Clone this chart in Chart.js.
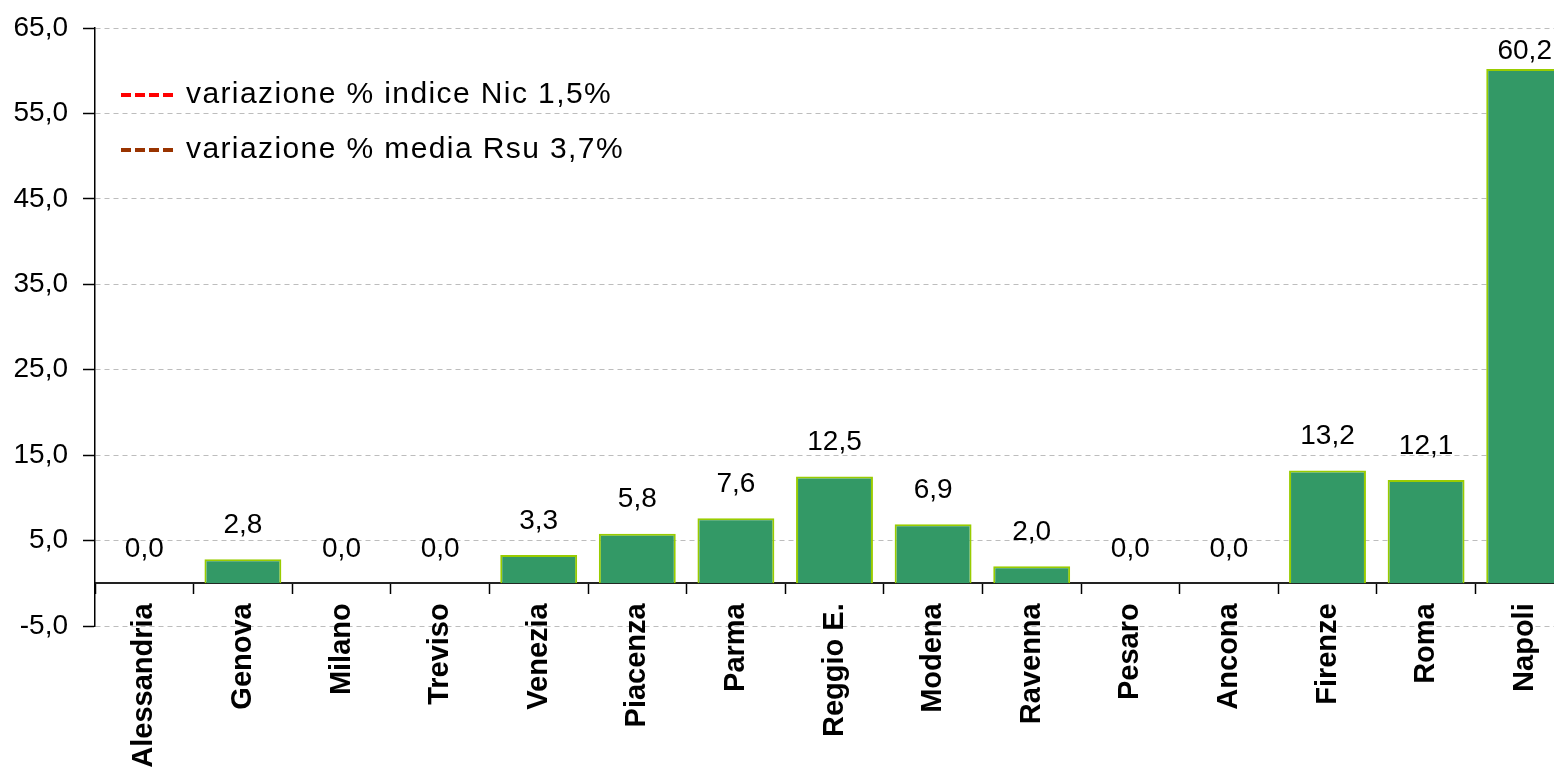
<!DOCTYPE html>
<html>
<head>
<meta charset="utf-8">
<script src="https://cdn.jsdelivr.net/npm/chart.js@4.4.1/dist/chart.umd.min.js"></script>
<style>
html,body{margin:0;padding:0;background:#fff;overflow:hidden;}
#wrap{width:1574px;height:773px;}
</style>
</head>
<body>
<div id="wrap"><canvas id="c" width="1574" height="773"></canvas></div>
<script>
const categories = ['Alessandria','Genova','Milano','Treviso','Venezia','Piacenza','Parma','Reggio E.','Modena','Ravenna','Pesaro','Ancona','Firenze','Roma','Napoli'];
const values = [0.0, 2.8, 0.0, 0.0, 3.3, 5.8, 7.6, 12.5, 6.9, 2.0, 0.0, 0.0, 13.2, 12.1, 60.2];
const yTicks = [-5, 5, 15, 25, 35, 45, 55, 65];
const nicValue = 1.5;
const rsuValue = 3.7;

const fmt = v => v.toFixed(1).replace('.', ',');
const FONT = '"Liberation Sans", Arial, sans-serif';

const dataLabels = {
  id: 'dataLabels',
  afterDatasetsDraw(chart) {
    const ctx = chart.ctx;
    const meta = chart.getDatasetMeta(0);
    ctx.save();
    ctx.font = '28px ' + FONT;
    ctx.fillStyle = '#000';
    ctx.textAlign = 'center';
    ctx.textBaseline = 'middle';
    meta.data.forEach((el, i) => {
      const gap = el.y - 34 < chart.chartArea.top + 10 ? 18 : 34;
      ctx.fillText(fmt(values[i]), el.x, el.y - gap);
    });
    ctx.restore();
  }
};

const customLegend = {
  id: 'customLegend',
  afterDraw(chart) {
    const ctx = chart.ctx;
    const items = chart.data.datasets.filter(d => d.type === 'line');
    ctx.save();
    items.forEach((d, i) => {
      const y = 95 + i * 55;
      ctx.strokeStyle = d.borderColor;
      ctx.lineWidth = 4;
      ctx.setLineDash([10, 4]);
      ctx.beginPath();
      ctx.moveTo(121, y);
      ctx.lineTo(173, y);
      ctx.stroke();
      ctx.setLineDash([]);
      ctx.font = '30px ' + FONT;
      ctx.letterSpacing = '1.4px';
      ctx.fillStyle = '#000';
      ctx.textAlign = 'left';
      ctx.textBaseline = 'middle';
      ctx.fillText(d.label, 186, y);
    });
    ctx.restore();
  }
};

new Chart(document.getElementById('c'), {
  type: 'bar',
  data: {
    labels: categories,
    datasets: [
      {
        type: 'bar',
        label: 'variazione %',
        data: values,
        backgroundColor: '#339966',
        borderColor: '#99cc00',
        borderWidth: 2,
        barPercentage: 0.78,
        categoryPercentage: 1.0
      },
      {
        type: 'line',
        label: 'variazione % indice Nic ' + fmt(nicValue) + '%',
        data: [],
        borderColor: '#ff0000',
        borderDash: [10, 4],
        pointRadius: 0
      },
      {
        type: 'line',
        label: 'variazione % media Rsu ' + fmt(rsuValue) + '%',
        data: [],
        borderColor: '#993300',
        borderDash: [10, 4],
        pointRadius: 0
      }
    ]
  },
  options: {
    responsive: false,
    animation: false,
    devicePixelRatio: 1,
    layout: { padding: { top: 28, right: 0, left: 0, bottom: 147 } },
    plugins: { legend: { display: false }, tooltip: { enabled: false } },
    scales: {
      x: {
        position: { y: 0 },
        z: 1,
        grid: { drawOnChartArea: false, offset: true, tickLength: 10, tickColor: '#000', tickWidth: 1.5 },
        border: { color: '#222', width: 2 },
        ticks: {
          maxRotation: 90, minRotation: 90, autoSkip: false, padding: 10,
          color: '#000',
          font: { family: FONT, size: 29, weight: 'bold' }
        },
        afterFit(scale) { scale.paddingTop = 0; scale.paddingBottom = 0; }
      },
      y: {
        min: -5, max: 65,
        grid: { color: '#bdbdbd', lineWidth: 1, tickLength: 12, tickColor: '#000', tickWidth: 1.5 },
        border: { color: '#000', width: 1.5, dash: [5, 4] },
        ticks: {
          padding: 15,
          color: '#000',
          font: { family: FONT, size: 28 },
          callback: v => fmt(v)
        },
        afterBuildTicks(scale) { scale.ticks = yTicks.map(v => ({ value: v })); },
        afterFit(scale) { scale.width = 95; scale.paddingTop = 0; scale.paddingBottom = 0; }
      }
    }
  },
  plugins: [dataLabels, customLegend]
});
</script>
</body>
</html>
